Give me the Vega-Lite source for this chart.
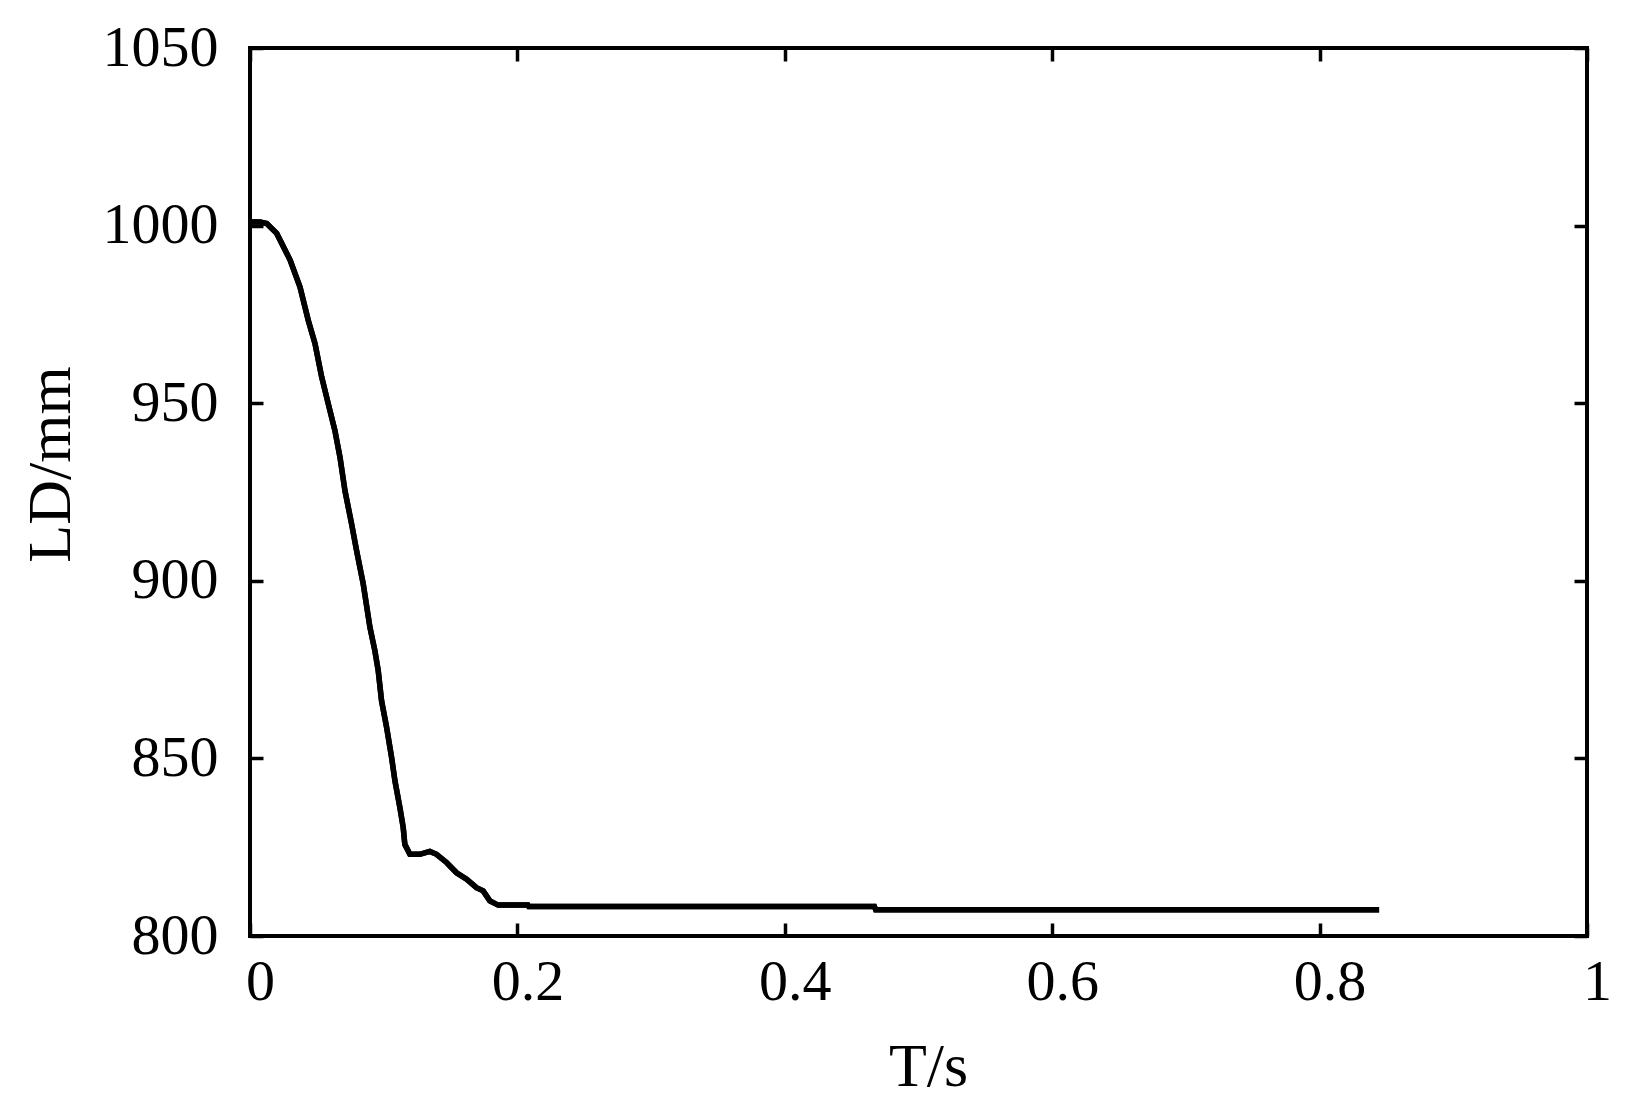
{
  "$schema": "https://vega.github.io/schema/vega-lite/v6.json",
  "width": 1337,
  "height": 888,
  "autosize": {"type": "none"},
  "padding": {"left": 250, "top": 48, "right": 50, "bottom": 181},
  "background": "white",
  "config": {
    "view": {"stroke": "black", "strokeWidth": 4},
    "axis": {
      "domain": false,
      "grid": false,
      "tickColor": "black",
      "tickWidth": 3.5,
      "tickSize": -13,
      "labelFont": "Liberation Serif",
      "labelFontSize": 58,
      "labelColor": "black",
      "labelFlush": false,
      "titleFont": "Liberation Serif",
      "titleFontSize": 62,
      "titleFontWeight": "normal",
      "titleColor": "black"
    }
  },
  "data": {
    "values": [
      {"t": 0, "L": 1001},
      {"t": 0.0075, "L": 1001},
      {"t": 0.0125, "L": 1000.6},
      {"t": 0.02, "L": 997.8},
      {"t": 0.03, "L": 990.3},
      {"t": 0.0374, "L": 982.7},
      {"t": 0.0436, "L": 973.3},
      {"t": 0.0486, "L": 966.8},
      {"t": 0.0536, "L": 957.4},
      {"t": 0.0585, "L": 949.9},
      {"t": 0.0635, "L": 942.3},
      {"t": 0.0673, "L": 934.8},
      {"t": 0.071, "L": 925.4},
      {"t": 0.076, "L": 916.0},
      {"t": 0.0797, "L": 908.5},
      {"t": 0.0847, "L": 899.1},
      {"t": 0.0897, "L": 886.9},
      {"t": 0.0934, "L": 880.3},
      {"t": 0.0959, "L": 874.7},
      {"t": 0.0984, "L": 866.2},
      {"t": 0.1022, "L": 858.7},
      {"t": 0.1059, "L": 850.3},
      {"t": 0.1084, "L": 843.7},
      {"t": 0.1121, "L": 836.2},
      {"t": 0.1146, "L": 830.5},
      {"t": 0.1158, "L": 825.8},
      {"t": 0.1196, "L": 823.0},
      {"t": 0.127, "L": 823.0},
      {"t": 0.1345, "L": 823.8},
      {"t": 0.1395, "L": 823.0},
      {"t": 0.147, "L": 820.7},
      {"t": 0.1545, "L": 817.8},
      {"t": 0.162, "L": 816.0},
      {"t": 0.1694, "L": 813.6},
      {"t": 0.1744, "L": 812.7},
      {"t": 0.1794, "L": 809.9},
      {"t": 0.1856, "L": 808.7},
      {"t": 0.2078, "L": 808.7},
      {"t": 0.2085, "L": 808.3},
      {"t": 0.467, "L": 808.3},
      {"t": 0.468, "L": 807.4},
      {"t": 0.8445, "L": 807.4}
    ]
  },
  "layer": [
    {
      "mark": {"type": "line", "color": "black", "strokeWidth": 5.5},
      "encoding": {
        "x": {
          "field": "t", "type": "quantitative",
          "scale": {"domain": [0, 1], "nice": false},
          "axis": {"orient": "bottom", "values": [0, 0.2, 0.4, 0.6, 0.8, 1], "format": "~g", "labelOffset": 10, "labelPadding": 30, "title": "T/s", "titlePadding": 25, "titleX": 678}
        },
        "y": {
          "field": "L", "type": "quantitative",
          "scale": {"domain": [800, 1050], "nice": false, "zero": false},
          "axis": {"orient": "left", "values": [800, 850, 900, 950, 1000, 1050], "format": "d", "labelPadding": 45, "labelBaseline": "middle", "title": "LD/mm", "titlePadding": 20, "titleY": 416}
        }
      }
    },
    {
      "mark": {"type": "line", "color": "black", "strokeWidth": 5.5},
      "encoding": {
        "x": {
          "field": "t", "type": "quantitative",
          "scale": {"domain": [0, 1], "nice": false},
          "axis": {"orient": "top", "values": [0, 0.2, 0.4, 0.6, 0.8, 1], "labels": false, "title": null}
        },
        "y": {
          "field": "L", "type": "quantitative",
          "scale": {"domain": [800, 1050], "nice": false, "zero": false},
          "axis": {"orient": "right", "values": [800, 850, 900, 950, 1000, 1050], "labels": false, "title": null}
        }
      }
    }
  ],
  "resolve": {"axis": {"x": "independent", "y": "independent"}}
}
